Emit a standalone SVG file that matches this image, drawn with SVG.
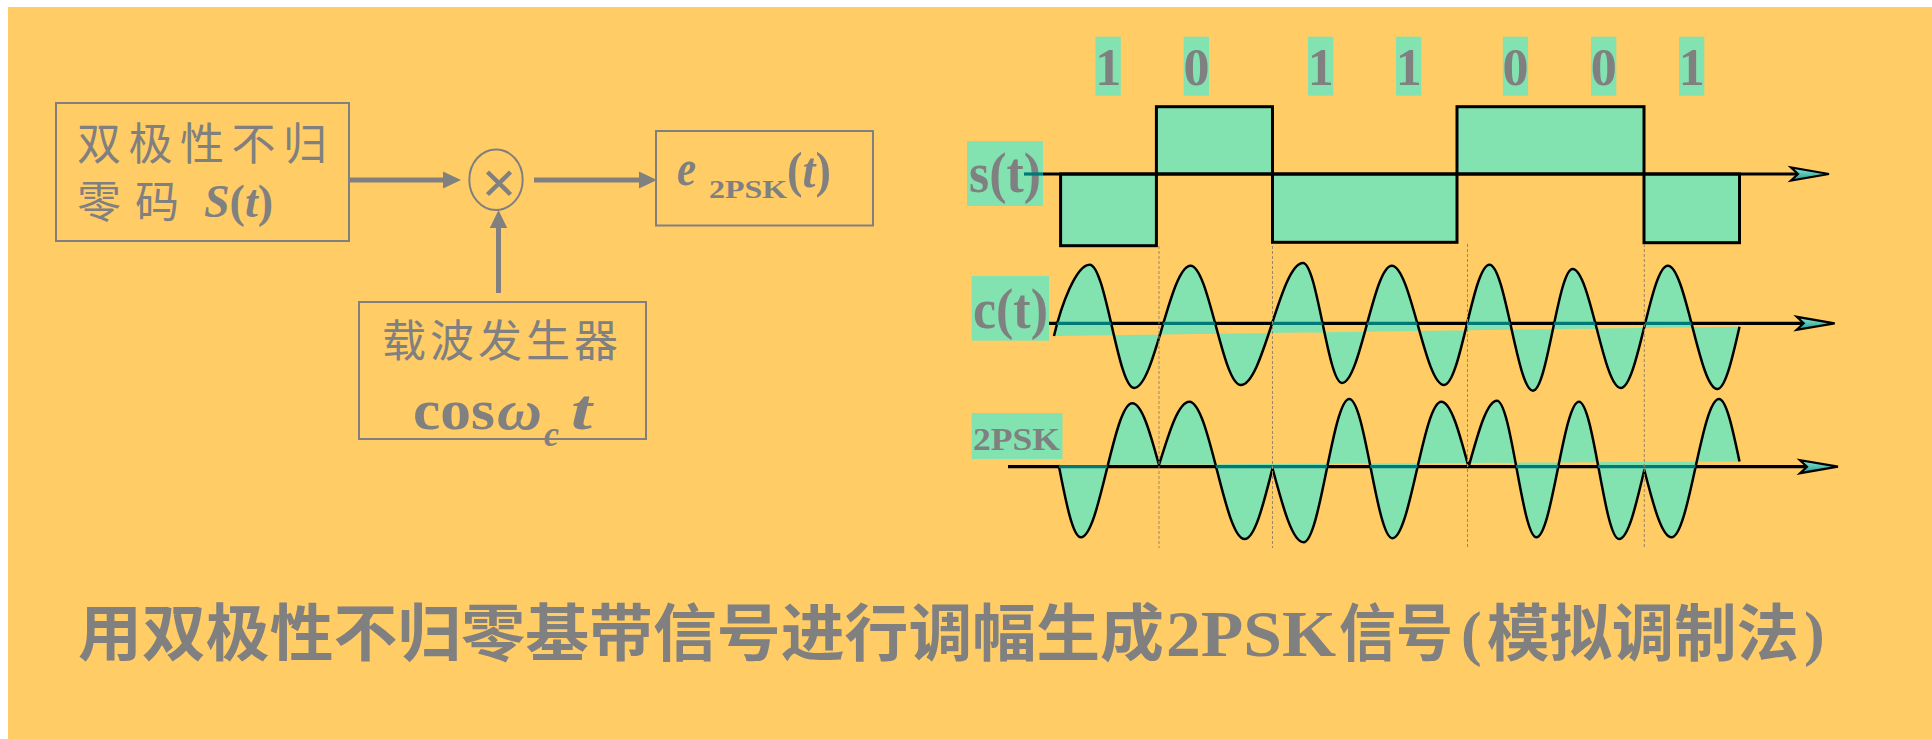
<svg xmlns="http://www.w3.org/2000/svg" xmlns:xlink="http://www.w3.org/1999/xlink" width="1932" height="739" viewBox="0 0 1932 739">
<style>
.box{fill:none;stroke:#808080;stroke-width:2}
.cjk{font-family:'Noto Sans CJK SC','Noto Sans CJK JP',sans-serif;fill:#808080}
.ser{font-family:'Liberation Serif','Times New Roman',serif;fill:#808080;font-weight:bold}
.it{font-style:italic}
.shaft{stroke:#808080;stroke-width:5;fill:none}
.head{fill:#808080}
.grn{fill:#82E3B1}
.sig{fill:#82E3B1;stroke:#000;stroke-width:3}
.wave{fill:#82E3B1;stroke:#000;stroke-width:2.5;stroke-linejoin:round}
.axis{stroke:#000;stroke-width:3.2}
.teal{stroke:#007878;stroke-width:3.2}
.dash{stroke:#9A8868;stroke-width:1;stroke-dasharray:3 2}
</style>
<defs>
<linearGradient id="ahg" x1="0" y1="0" x2="0" y2="1">
<stop offset="0" stop-color="#8FEBDC"/>
<stop offset="1" stop-color="#1C9C8C"/>
</linearGradient>
<path id="ah" d="M0,0 L-38,-6.5 L-31,0 L-38,6.5 Z" fill="url(#ahg)" stroke="#000" stroke-width="2.2" stroke-linejoin="miter"/>
<path id="cwave" d="M1054,336 C1061,306 1076,264.7 1089.7,264.7 C1105.8,264.7 1117.9,388 1134,388 C1154.6,388 1170,265.7 1190.6,265.7 C1208.9,265.7 1222.5,385 1240.8,385 C1263.4,385 1280.4,263 1303,263 C1317.2,263 1327.8,383 1342,383 C1360.1,383 1373.7,265.7 1391.8,265.7 C1410.8,265.7 1425,385 1444,385 C1460.6,385 1472.9,264.7 1489.5,264.7 C1505.3,264.7 1517.2,390.7 1533,390.7 C1547.4,390.7 1558.2,269 1572.6,269 C1590.1,269 1603.3,388 1620.8,388 C1637.9,388 1650.7,265.7 1667.8,265.7 C1685.8,265.7 1699.3,389 1717.3,389 C1725.2,389 1732.1,359.4 1739.5,326.7"/>
<path id="pwave" d="M1058.7,465 C1066.1,503.4 1073,537.3 1080.9,537.3 C1099.6,537.3 1113.6,403.3 1132.3,403.3 C1141.9,403.3 1150.1,432.6 1159,465 C1169.2,431.8 1178.5,401.7 1189.4,401.7 C1209.5,401.7 1224.5,539 1244.6,539 C1254.6,539 1263.2,505.4 1272.5,468.3 C1282.9,507.2 1292.5,542.3 1303.6,542.3 C1320.2,542.3 1332.7,399 1349.3,399 C1365,399 1376.7,538.3 1392.4,538.3 C1410.2,538.3 1423.5,401.7 1441.3,401.7 C1451.1,401.7 1459.5,433.3 1468.6,467 C1478.1,432.8 1486.8,400.7 1497,400.7 C1511.3,400.7 1522.1,537.3 1536.4,537.3 C1551.9,537.3 1563.5,401.7 1579,401.7 C1593.6,401.7 1604.4,539 1619,539 C1628.1,539 1635.8,506.2 1644.3,470 C1653.4,505.3 1661.8,537.3 1671.6,537.3 C1688.9,537.3 1701.7,399 1719,399 C1726.3,399 1732.7,429.1 1739.5,461.5"/>
<clipPath id="cclip"><use xlink:href="#cwave"/></clipPath>
<clipPath id="pclip"><use xlink:href="#pwave"/></clipPath>
</defs>

<rect x="0" y="0" width="1932" height="739" fill="#FFFFFF"/>
<rect x="8" y="7" width="1924" height="732" fill="#FFCC66"/>

<g id="node-source">
<rect class="box" x="56" y="103" width="293" height="138"/>
<text class="cjk" x="77" y="160" font-size="44" letter-spacing="7.5">双极性不归</text>
<text class="cjk" font-size="44" y="218"><tspan x="77">零</tspan><tspan x="135">码</tspan></text>
<text class="ser" x="204" y="217" font-size="46"><tspan class="it">S</tspan>(<tspan class="it">t</tspan>)</text>
</g>

<g id="node-multiplier">
<ellipse cx="496" cy="179.7" rx="26.7" ry="30.3" fill="none" stroke="#808080" stroke-width="2"/>
<path d="M487.5,172 L510.5,194.5 M510.5,172 L487.5,194.5" stroke="#808080" stroke-width="4.5" fill="none"/>
</g>

<g id="node-output">
<rect class="box" x="656" y="131" width="217" height="94.5"/>
<text class="ser it" x="677" y="185" font-size="50" textLength="19" lengthAdjust="spacingAndGlyphs">e</text>
<text class="ser" x="709" y="198" font-size="25" textLength="78" lengthAdjust="spacingAndGlyphs">2PSK</text>
<text class="ser" x="787" y="187" font-size="50" textLength="44" lengthAdjust="spacingAndGlyphs">(<tspan class="it">t</tspan>)</text>
</g>

<g id="node-carrier">
<rect class="box" x="359" y="302" width="287" height="137"/>
<text class="cjk" x="382" y="357" font-size="44" letter-spacing="4">载波发生器</text>
<text class="ser" x="413" y="429" font-size="58" textLength="82" lengthAdjust="spacingAndGlyphs">cos</text>
<text class="ser it" x="497" y="429" font-size="58" textLength="45" lengthAdjust="spacingAndGlyphs">ω</text>
<text class="ser it" x="544" y="446" font-size="36" textLength="15" lengthAdjust="spacingAndGlyphs">c</text>
<text class="ser it" x="571" y="429" font-size="58" textLength="21" lengthAdjust="spacingAndGlyphs">t</text>
</g>

<g id="connectors">
<line class="shaft" x1="349" y1="180" x2="445" y2="180"/>
<path class="head" d="M461,180 L443,171.5 L443,188.5 Z"/>
<line class="shaft" x1="534" y1="180" x2="641" y2="180"/>
<path class="head" d="M657,180 L639,171.5 L639,188.5 Z"/>
<line class="shaft" x1="498.5" y1="293" x2="498.5" y2="226"/>
<path class="head" d="M498.5,210 L489.8,228 L507.2,228 Z"/>
</g>

<g id="bits">
<rect class="grn" x="1095.5" y="36.7" width="25.3" height="59"/>
<rect class="grn" x="1183.7" y="36.7" width="25.3" height="59"/>
<rect class="grn" x="1308" y="36.7" width="25.3" height="59"/>
<rect class="grn" x="1396" y="36.7" width="25.3" height="59"/>
<rect class="grn" x="1502.8" y="36.7" width="25.3" height="59"/>
<rect class="grn" x="1591" y="36.7" width="25.3" height="59"/>
<rect class="grn" x="1679" y="36.7" width="25.3" height="59"/>
<g class="ser" font-size="52" text-anchor="middle">
<text x="1108.2" y="85">1</text>
<text x="1196.4" y="85">0</text>
<text x="1320.7" y="85">1</text>
<text x="1408.7" y="85">1</text>
<text x="1515.5" y="85">0</text>
<text x="1603.7" y="85">0</text>
<text x="1691.7" y="85">1</text>
</g>
</g>

<g id="signal-s">
<rect class="grn" x="967" y="141" width="76" height="65"/>
<text class="ser" x="969" y="192" font-size="56" textLength="72" lengthAdjust="spacingAndGlyphs">s(t)</text>
<line class="teal" x1="1024" y1="174" x2="1043" y2="174"/>
<rect class="sig" x="1060.6" y="174" width="95.8" height="71.7"/>
<rect class="sig" x="1156.4" y="106.7" width="116.1" height="67.3"/>
<rect class="sig" x="1272.5" y="174" width="184.5" height="68.3"/>
<rect class="sig" x="1457" y="106.7" width="187" height="67.3"/>
<rect class="sig" x="1644" y="174" width="95.5" height="68.7"/>
<line class="axis" x1="1043" y1="174" x2="1798" y2="174"/>
<use xlink:href="#ah" transform="translate(1829,174)"/>
</g>

<g id="signal-c">
<rect class="grn" x="971.7" y="276" width="77.3" height="64.7"/>
<text class="ser" x="973" y="328" font-size="56" textLength="75" lengthAdjust="spacingAndGlyphs">c(t)</text>
<line class="axis" x1="1049" y1="323.3" x2="1804" y2="323.3"/>
<use xlink:href="#cwave" class="wave"/>
<line class="teal" x1="1049" y1="323.3" x2="1804" y2="323.3" clip-path="url(#cclip)"/>
<use xlink:href="#ah" transform="translate(1834.7,323.3)"/>
</g>

<g id="signal-2psk">
<rect class="grn" x="971.7" y="413" width="90.8" height="46"/>
<text class="ser" x="973" y="450" font-size="31" textLength="87" lengthAdjust="spacingAndGlyphs">2PSK</text>
<line class="axis" x1="1008" y1="466.7" x2="1808" y2="466.7"/>
<use xlink:href="#pwave" class="wave"/>
<line class="teal" x1="1008" y1="466.7" x2="1808" y2="466.7" clip-path="url(#pclip)"/>
<use xlink:href="#ah" transform="translate(1838,466.7)"/>
</g>

<g id="bit-boundaries">
<line class="dash" x1="1159" y1="246" x2="1159" y2="548"/>
<line class="dash" x1="1272.5" y1="246" x2="1272.5" y2="548"/>
<line class="dash" x1="1467.5" y1="244" x2="1467.5" y2="548"/>
<line class="dash" x1="1644.3" y1="244" x2="1644.3" y2="548"/>
</g>

<g id="caption">
<text class="cjk" x="78" y="656" font-size="62" font-weight="bold" textLength="1086" lengthAdjust="spacingAndGlyphs">用双极性不归零基带信号进行调幅生成</text>
<text class="ser" x="1166" y="656" font-size="66" textLength="170" lengthAdjust="spacingAndGlyphs">2PSK</text>
<text class="cjk" x="1339" y="656" font-size="62" font-weight="bold" textLength="114" lengthAdjust="spacingAndGlyphs">信号</text>
<text class="ser" x="1461" y="654" font-size="62" font-weight="normal">(</text>
<text class="cjk" x="1487" y="656" font-size="62" font-weight="bold" textLength="312" lengthAdjust="spacingAndGlyphs">模拟调制法</text>
<text class="ser" x="1804" y="654" font-size="62" font-weight="normal">)</text>
</g>
</svg>
